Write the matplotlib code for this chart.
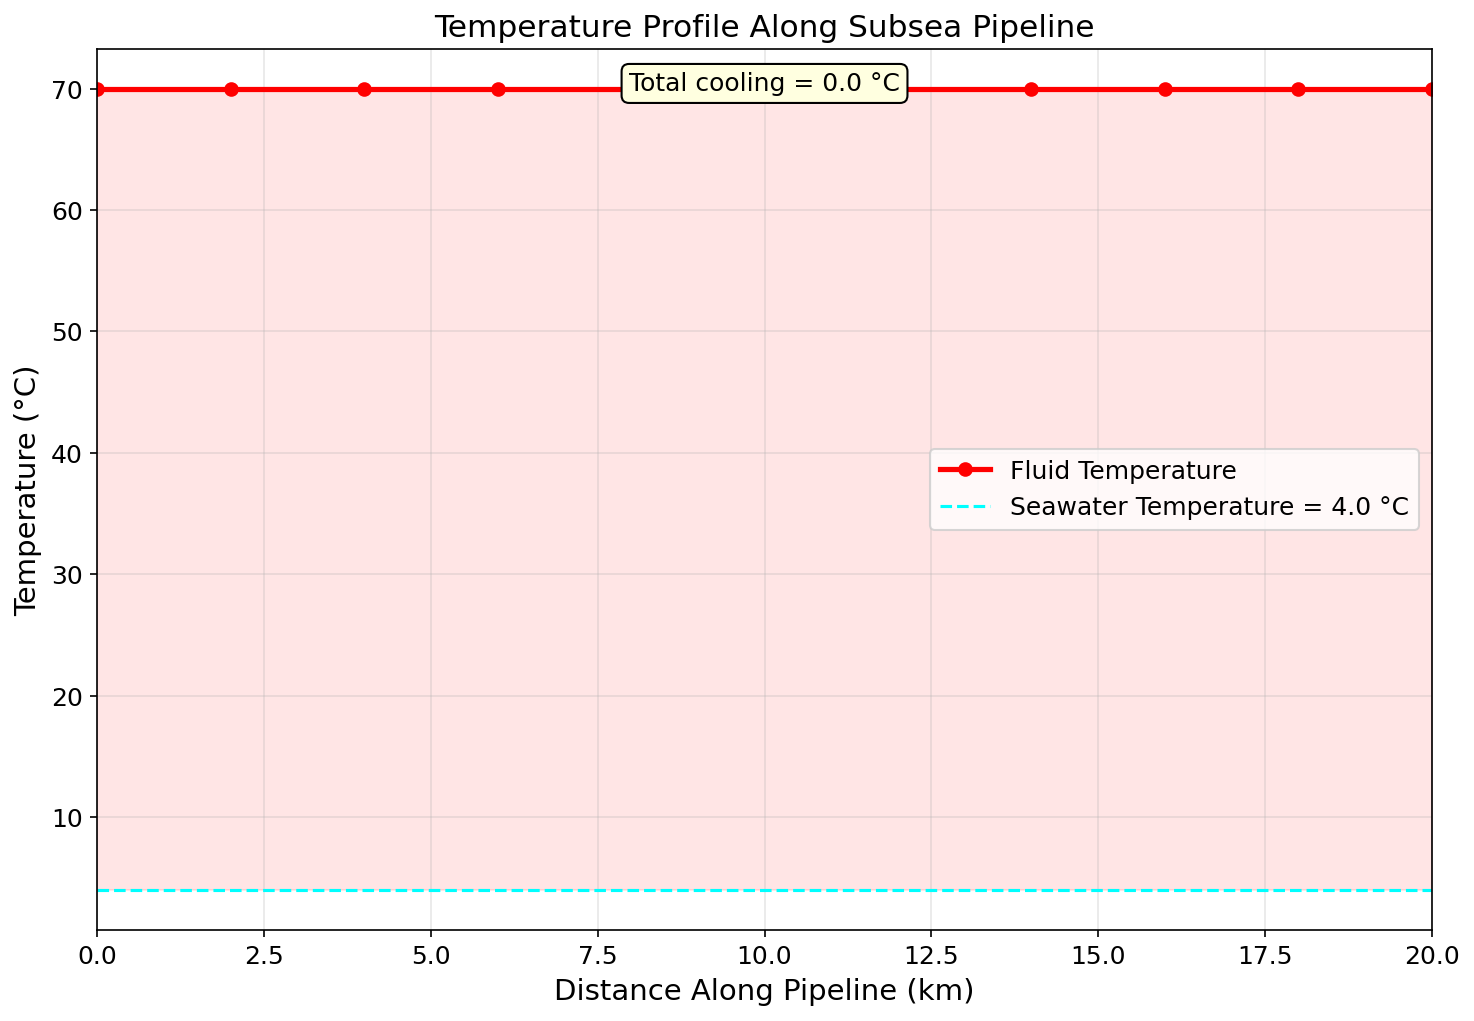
import numpy as np
import matplotlib.pyplot as plt

# Data
distance_km = [0, 2, 4, 6, 8, 10, 12, 14, 16, 18, 20]
fluid_temp = [70.0, 70.0, 70.0, 70.0, 70.0, 70.0, 70.0, 70.0, 70.0, 70.0, 70.0]
seawater_temp = 4.0
total_cooling = fluid_temp[0] - fluid_temp[-1]

fig, ax = plt.subplots(figsize=(9.83, 6.81), dpi=150)

# Fluid temperature line
ax.plot(distance_km, fluid_temp, color='red', linewidth=2.5, marker='o',
        markersize=6, label='Fluid Temperature')

# Seawater reference line
ax.axhline(seawater_temp, color='cyan', linestyle='--', linewidth=1.5,
           label=f'Seawater Temperature = {seawater_temp:.1f} °C')

# Shade between fluid and seawater
ax.fill_between(distance_km, seawater_temp, fluid_temp, color='red', alpha=0.1)

ax.set_xlim(0, 20)
ax.set_xlabel('Distance Along Pipeline (km)', fontsize=14)
ax.set_ylabel('Temperature (°C)', fontsize=14)
ax.set_title('Temperature Profile Along Subsea Pipeline', fontsize=15)
ax.tick_params(labelsize=12)
ax.grid(True, alpha=0.3)
ax.legend(loc='center right', fontsize=12)

ax.text(0.5, 0.974, f'Total cooling = {total_cooling:.1f} °C', transform=ax.transAxes,
        ha='center', va='top', fontsize=12,
        bbox=dict(boxstyle='round', facecolor='lightyellow', edgecolor='black'))

fig.subplots_adjust(left=0.066, right=0.971, top=0.952, bottom=0.089)
plt.savefig('out.png', dpi=150)
